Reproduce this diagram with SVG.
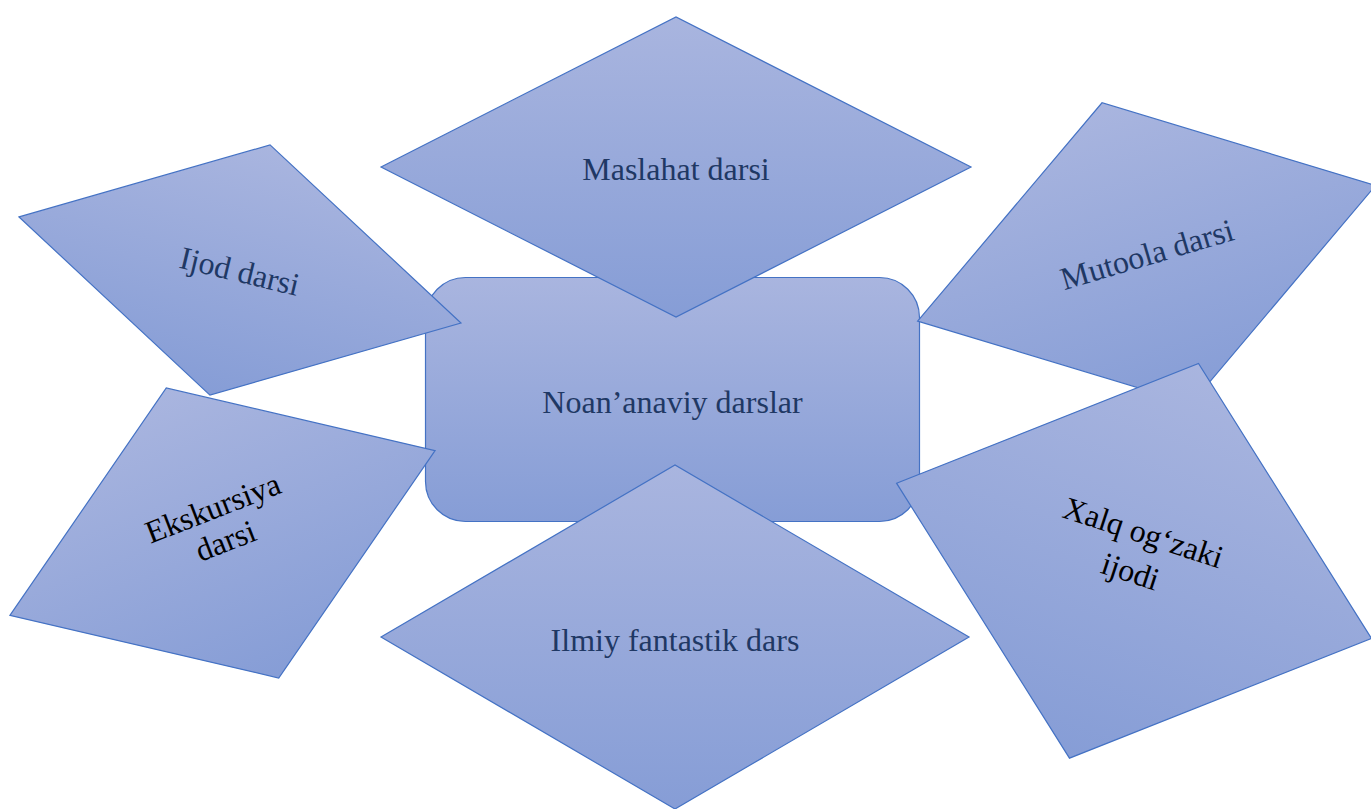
<svg xmlns="http://www.w3.org/2000/svg" width="1371" height="809" viewBox="0 0 1371 809">
<defs>
<linearGradient id="g" x1="0" y1="0" x2="0" y2="1">
<stop offset="0" stop-color="#a9b5df"/>
<stop offset="1" stop-color="#869dd6"/>
</linearGradient>
<style>
.s{fill:url(#g);stroke:#4472c4;stroke-width:1.2;stroke-linejoin:miter}
.t{font-family:"Liberation Serif","Times New Roman",serif;font-size:32px;text-anchor:middle;fill:#1f3864}
.k{fill:#000}
</style>
</defs>
<rect width="1371" height="809" fill="#fff"/>
<g id="center">
<rect class="s" x="425.5" y="277.5" width="494" height="244" rx="40" ry="40"/>
<text class="t" x="672.5" y="413">Noan’anaviy darslar</text>
</g>
<g id="maslahat">
<polygon class="s" points="381,167 676,17 971,167 676,317"/>
<text class="t" x="676" y="180">Maslahat darsi</text>
</g>
<g id="ijod" transform="translate(240,270) rotate(13.5)">
<polygon class="s" points="-227.25,0 0,-128.65 227.25,0 0,128.65"/>
<text class="t" x="0" y="12">Ijod darsi</text>
</g>
<g id="mutoola" transform="translate(1146.6,253.3) rotate(-16.5)">
<polygon class="s" points="-238.8,0 0,-157 238.8,0 0,157"/>
<text class="t" x="0" y="12">Mutoola darsi</text>
</g>
<g id="ekskursiya" transform="translate(222.5,533) rotate(-21.2)">
<polygon class="s" points="-228,0 0,-155.5 228,0 0,155.5"/>
<text class="t k" x="0" y="-16">Ekskursiya</text>
<text class="t k" x="0" y="19">darsi</text>
</g>
<g id="ilmiy">
<polygon class="s" points="381,637 675,465 969,637 675,809"/>
<text class="t" x="675" y="651">Ilmiy fantastik dars</text>
</g>
<g id="xalq" transform="translate(1134,560.8) rotate(18.1)">
<polygon class="s" points="-249.8,0 0,-207.65 249.8,0 0,207.65"/>
<text class="t k" x="0" y="-19">Xalq og‘zaki</text>
<text class="t k" x="0" y="22">ijodi</text>
</g>
</svg>
